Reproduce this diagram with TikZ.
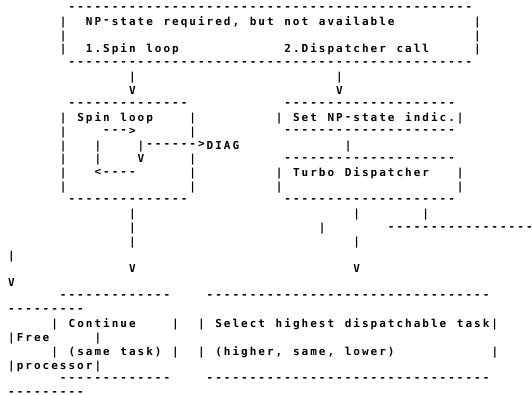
\documentclass[tikz,border=0pt]{standalone}
\usepackage{fontspec}
\newfontfamily\asciifont{DejaVu Sans Mono}
\newlength\pitch
\setlength\pitch{8.63pt}
\newcommand\cellbox[1]{\hbox to\pitch{\hss#1\hss}}
\def\cellsEnd{\cellsEnd}
\newcommand\cellchar[1]{\ifx#1-\cellbox{\raisebox{1.5pt}{-}}\else\ifx#1>\cellbox{\raisebox{1.2pt}{>}}\else\ifx#1<\cellbox{\raisebox{1.2pt}{<}}\else\cellbox{#1}\fi\fi\fi}
\def\cellsA#1{\ifx#1\cellsEnd\else\cellchar{#1}\expandafter\cellsA\fi}
\newcommand\cells[1]{\cellsA#1\cellsEnd}
\tikzset{asc/.style={anchor=base west, inner sep=0pt, outer sep=0pt,
  font=\asciifont\bfseries\fontsize{11}{13}\selectfont, text=black}}
% #1 name, #2 row, #3 column, #4 text (~ = blank cell)
\newcommand\T[4]{\node[asc] (#1) at ({8.63*(#3)-1.415},{-(11.6+13.75*((#2)-1))}) {\cells{#4}};}
% #1 name, #2 row, #3 column, #4 number of dashes
\newcommand\Dsh[4]{\node[asc] (#1) at ({8.63*(#3)-1.415},{-(7.6+13.75*((#2)-1))}) {\foreach \i in {1,...,#4}{\cellbox{\raisebox{-2.55pt}[1.5pt][0pt]{-}}}};}
\begin{document}
\begin{tikzpicture}[x=1pt,y=1pt]
\path[use as bounding box, fill=white] (0,0) rectangle (532,-394);
% top box
\Dsh{t1}{1}{8}{47}
\T{t2a}{2}{7}{|}\T{t2b}{2}{10}{NP-state~required,~but~not~available}\T{t2c}{2}{55}{|}
\T{t3a}{3}{7}{|}\T{t3b}{3}{55}{|}
\T{t4a}{4}{7}{|}\T{t4b}{4}{10}{1.Spin~loop}\T{t4c}{4}{33}{2.Dispatcher~call}\T{t4d}{4}{55}{|}
\Dsh{t5}{5}{8}{47}
\T{a6a}{6}{15}{|}\T{a6b}{6}{39}{|}
\T{a7a}{7}{15}{V}\T{a7b}{7}{39}{V}
% spin loop box and NP-state / turbo boxes
\Dsh{s8}{8}{8}{14}\Dsh{n8}{8}{33}{20}
\T{s9a}{9}{7}{|~Spin~loop}\T{s9b}{9}{22}{|}\T{n9}{9}{32}{|~Set~NP-state~indic.|}
\T{s10a}{10}{7}{|}\T{s10b}{10}{12}{--->}\T{s10c}{10}{22}{|}\Dsh{n10}{10}{33}{20}
\T{s11a}{11}{7}{|}\T{s11b}{11}{11}{|}\T{s11c}{11}{16}{|------>DIAG}\T{n11}{11}{40}{|}
\T{s12a}{12}{7}{|}\T{s12b}{12}{11}{|}\T{s12c}{12}{16}{V}\T{s12d}{12}{22}{|}\Dsh{n12}{12}{33}{20}
\T{s13a}{13}{7}{|}\T{s13b}{13}{11}{<----}\T{s13c}{13}{22}{|}\T{n13a}{13}{32}{|~Turbo~Dispatcher}\T{n13b}{13}{53}{|}
\T{s14a}{14}{7}{|}\T{s14b}{14}{22}{|}\T{n14a}{14}{32}{|}\T{n14b}{14}{53}{|}
\Dsh{s15}{15}{8}{14}\Dsh{n15}{15}{33}{20}
% connectors
\T{c16a}{16}{15}{|}\T{c16b}{16}{41}{|}\T{c16c}{16}{49}{|}
\T{c17a}{17}{15}{|}\T{c17b}{17}{37}{|}\Dsh{c17c}{17}{45}{17}
\T{c18a}{18}{15}{|}\T{c18b}{18}{41}{|}
\T{c19}{19}{1}{|}
\T{c20a}{20}{15}{V}\T{c20b}{20}{41}{V}
\T{c21}{21}{1}{V}
% bottom boxes
\Dsh{b22a}{22}{7}{13}\Dsh{b22b}{22}{24}{33}
\Dsh{b23}{23}{1}{9}
\T{b24a}{24}{6}{|~Continue}\T{b24b}{24}{20}{|}\T{b24c}{24}{23}{|~Select~highest~dispatchable~task|}
\T{b25a}{25}{1}{|Free}\T{b25b}{25}{11}{|}
\T{b26a}{26}{6}{|~(same~task)~|}\T{b26b}{26}{23}{|~(higher,~same,~lower)}\T{b26c}{26}{57}{|}
\T{b27}{27}{1}{|processor|}
\Dsh{b28a}{28}{7}{13}\Dsh{b28b}{28}{24}{33}
\Dsh{b29}{29}{1}{9}
\end{tikzpicture}
\end{document}
